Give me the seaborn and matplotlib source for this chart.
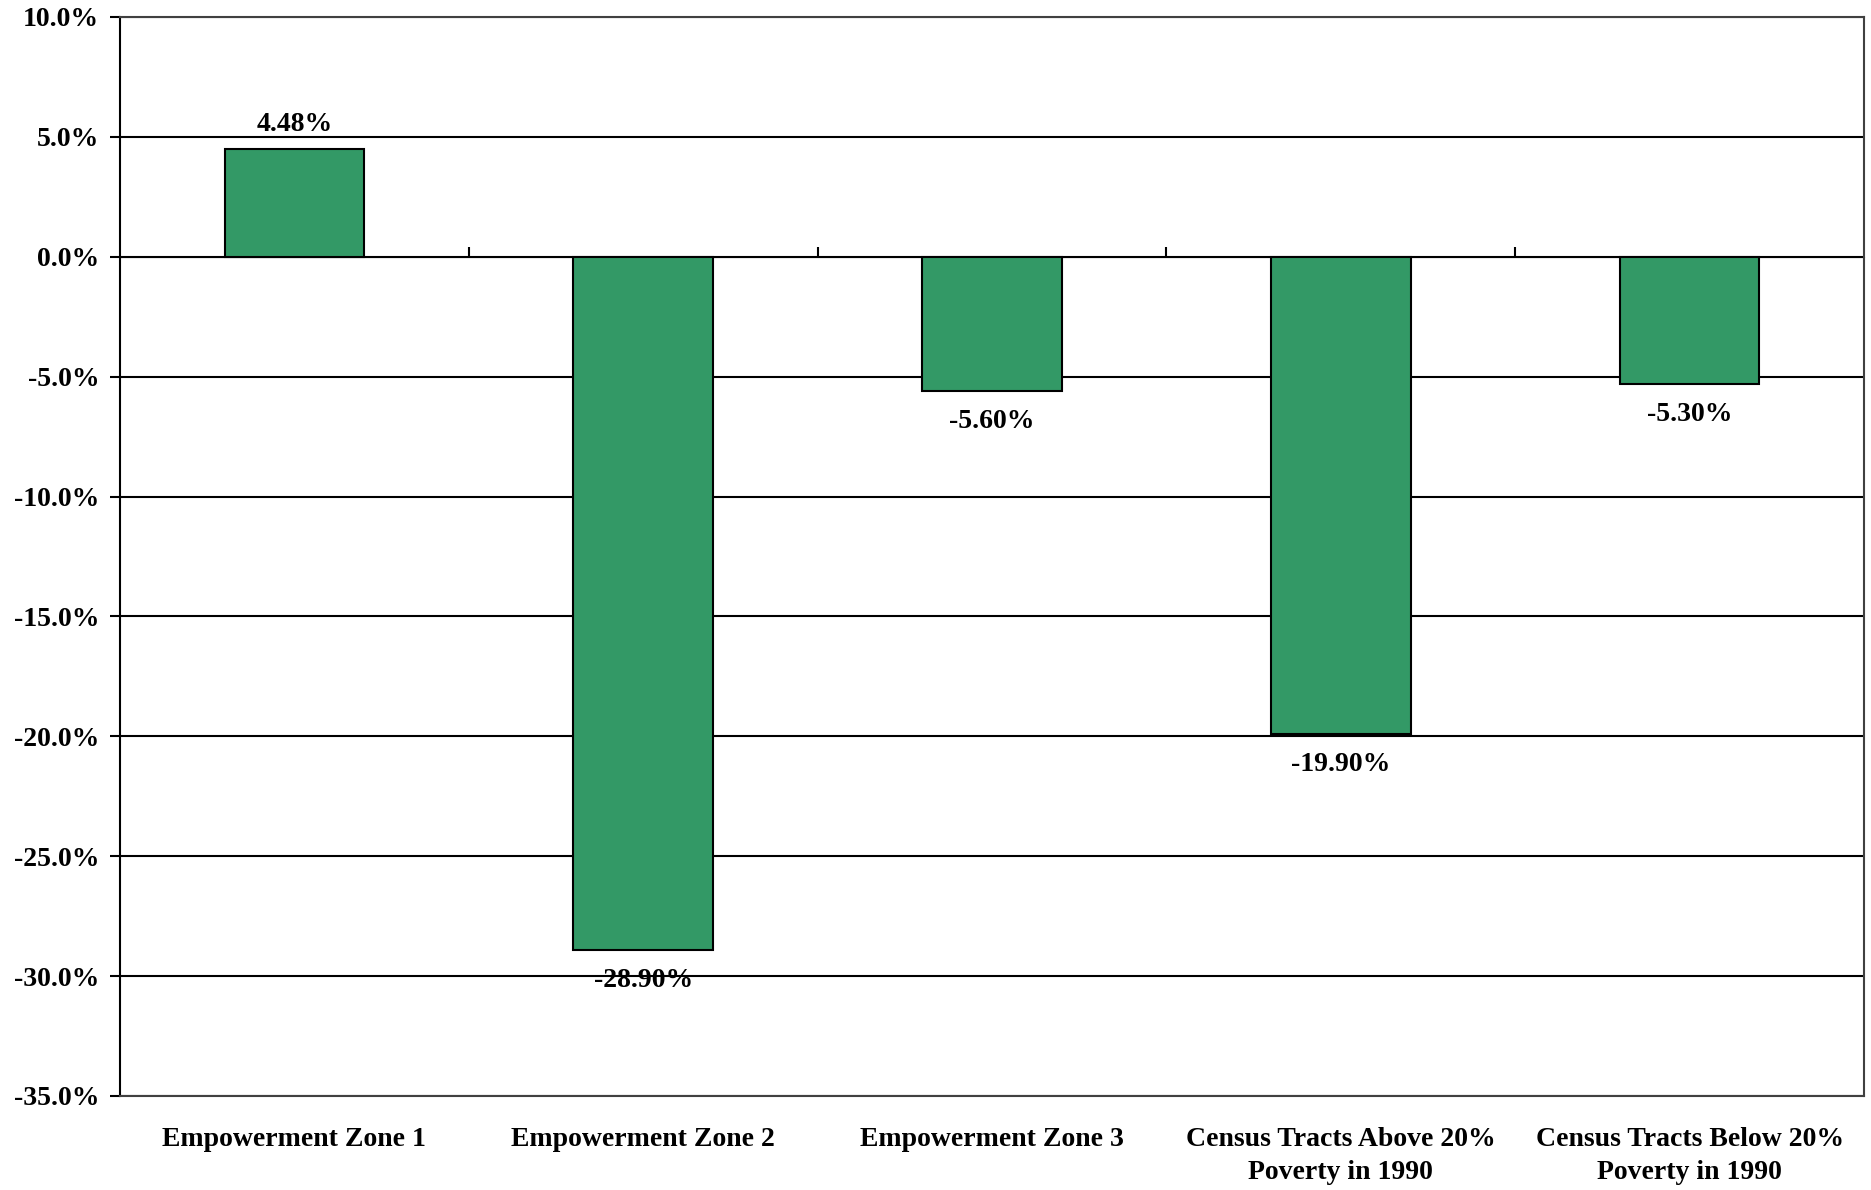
import matplotlib
matplotlib.use("Agg")
import matplotlib.pyplot as plt
import matplotlib.ticker as mticker
import seaborn as sns
import pandas as pd

# data
categories = ["Empowerment Zone 1", "Empowerment Zone 2", "Empowerment Zone 3",
              "Census Tracts Above 20%\nPoverty in 1990",
              "Census Tracts Below 20%\nPoverty in 1990"]
pct_change = [4.48, -28.90, -5.60, -19.90, -5.30]

df = pd.DataFrame({"category": categories, "change": pct_change})

sns.set_style("white")
plt.rcParams['font.family'] = ['Liberation Serif', 'DejaVu Serif']
plt.rcParams['font.weight'] = 'bold'
plt.rcParams['font.size'] = 20
plt.rcParams['text.color'] = 'black'
plt.rcParams['xtick.color'] = 'black'
plt.rcParams['ytick.color'] = 'black'
plt.rcParams['xtick.labelcolor'] = 'black'
plt.rcParams['ytick.labelcolor'] = 'black'

fig = plt.figure(figsize=(18.71, 11.90), dpi=100)
ax = fig.add_axes([120/1871, 1 - 1096/1190, (1864 - 120)/1871, (1096 - 17)/1190])

sns.barplot(data=df, x="category", y="change", color="#339966", saturation=1,
            width=0.4, edgecolor="black", linewidth=1.5, ax=ax, zorder=3)

ax.set_ylim(-35, 10)
ax.set_xlim(-0.5, len(categories) - 0.5)
ax.yaxis.set_major_locator(mticker.MultipleLocator(5))
ax.yaxis.set_major_formatter(mticker.FuncFormatter(lambda v, p: f"{v:.1f}%"))
ax.grid(axis='y', color='black', linewidth=1.5, zorder=0)
ax.set_axisbelow(True)

ax.set_xlabel("")
ax.set_ylabel("")
ax.tick_params(axis='y', direction='out', length=7, width=1.5, color='black', pad=8,
               left=True, labelsize=20, labelcolor='black')
ax.tick_params(axis='x', length=0, pad=22, labelsize=20, labelcolor='black')
for lab in ax.get_xticklabels():
    lab.set_fontweight('bold')
    lab.set_linespacing(1.45)
for lab in ax.get_yticklabels():
    lab.set_fontweight('bold')

ax.spines['left'].set_color('black')
ax.spines['left'].set_linewidth(1.5)
for s in ['right', 'bottom', 'top']:
    ax.spines[s].set_color('#404040')
    ax.spines[s].set_linewidth(1.5)

# category tick marks on the zero line
sec = ax.secondary_xaxis(35/45)
sec.set_xticks([i + 0.5 for i in range(len(categories) - 1)])
sec.set_xticklabels([])
sec.tick_params(axis='x', direction='out', length=7, width=1.5, color='black')
sec.spines['bottom'].set_visible(False)

# value labels
for i, v in enumerate(pct_change):
    off = 9 if v >= 0 else -13
    ax.annotate(f"{v:.2f}%", (i, v), xytext=(0, off), textcoords='offset points',
                ha='center', va='bottom' if v >= 0 else 'top', color='black',
                fontsize=20, fontweight='bold', zorder=5)

fig.savefig("out.png", dpi=100)
